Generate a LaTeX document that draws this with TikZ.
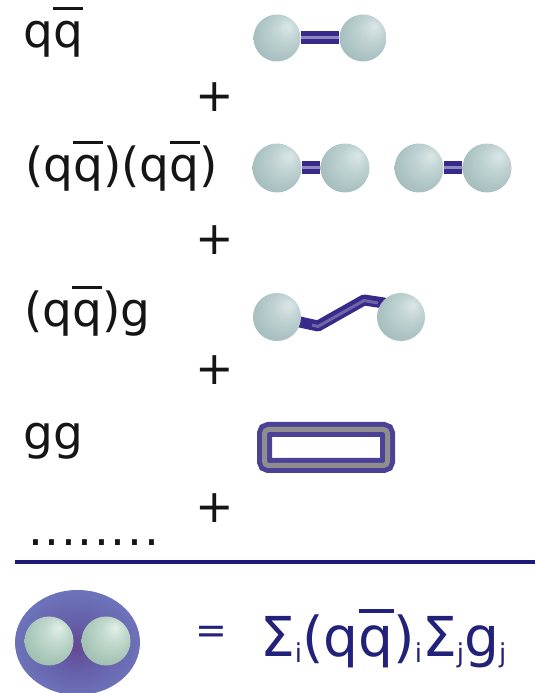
\documentclass[tikz,border=0pt]{standalone}
\usepackage{fontspec}
\setmainfont{DejaVu Sans}
\usetikzlibrary{shapes.geometric}

\definecolor{ink}{HTML}{151515}
\definecolor{navy}{HTML}{22227A}
\definecolor{bond}{HTML}{372A8A}
\definecolor{bondlight}{HTML}{8F89C2}
\definecolor{ribbonmid}{HTML}{6E66A8}
\definecolor{frame}{HTML}{4B4297}
\definecolor{framegray}{HTML}{8E8E8E}
\definecolor{rule}{HTML}{1C1C78}

\definecolor{sA}{HTML}{DCE7E7}
\definecolor{sB}{HTML}{C2D4D4}
\definecolor{sC}{HTML}{A7BFBF}
\definecolor{sD}{HTML}{8DA8A9}
\definecolor{sE}{HTML}{829E9F}

\definecolor{gA}{HTML}{E2EFE8}
\definecolor{gB}{HTML}{C2DACD}
\definecolor{gC}{HTML}{A1C1B2}
\definecolor{gD}{HTML}{86A897}
\definecolor{gE}{HTML}{7C9E8E}

\definecolor{oA}{HTML}{654894}
\definecolor{oB}{HTML}{6660AA}
\definecolor{oC}{HTML}{6E77BD}
\definecolor{oD}{HTML}{7780C4}
\definecolor{oE}{HTML}{959DD3}

% grey-teal spheres, lit from the upper right
\pgfdeclareradialshading{sphere}{\pgfpoint{13bp}{13bp}}{%
  color(0bp)=(sA); color(12bp)=(sB); color(30bp)=(sC); color(46bp)=(sD); color(50bp)=(sE)}
% greener spheres inside the glow
\pgfdeclareradialshading{sphereg}{\pgfpoint{10bp}{14bp}}{%
  color(0bp)=(gA); color(12bp)=(gB); color(30bp)=(gC); color(46bp)=(gD); color(50bp)=(gE)}
% bluish glow with a purple core
\pgfdeclareradialshading{glow}{\pgfpoint{0bp}{-2bp}}{%
  color(0bp)=(oA); color(12bp)=(oB); color(28bp)=(oC); color(44bp)=(oD); color(50bp)=(oE)}

\pgfdeclarelayer{bonds}
\pgfsetlayers{bonds,main}

\newcommand\qbar{\rlap{\rule[0.80em]{0.64em}{0.075em}}q}
\newcommand\sub[1]{\raisebox{-6pt}{\fontsize{26}{26}\selectfont #1}}
\newcommand\dotgap{\hspace{1.6pt}}

\tikzset{
  label/.style={anchor=base west, text=ink, inner sep=0pt, font=\fontsize{47}{50}\selectfont},
  plus/.style={text=ink, inner sep=0pt, font=\fontsize{46}{50}\selectfont},
  ball/.style={circle, inner sep=0pt, minimum size=#1, shade, shading=sphere},
  gball/.style={circle, inner sep=0pt, minimum size=#1, shade, shading=sphereg},
  twobond/.style={draw=bond, line width=5pt, double=bondlight, double distance=3pt},
}

\begin{document}
\begin{tikzpicture}[x=1pt,y=1pt]
\useasboundingbox (0,0) rectangle (535,693);

% row 1: a single quark-antiquark pair
\node[label] (t1) at (23,645) {q\qbar};
\node[ball=47pt] (a1) at (277,655) {};
\node[ball=47pt] (a2) at (363,655) {};
\draw[twobond] (a1) -- (a2);
\node[plus] (p1) at (215,596) {+};

% row 2: two pairs
\node[label] (t2) at (25,511) {(q\qbar)(q\qbar)};
\node[ball=49pt] (b1) at (277,525) {};
\node[ball=49pt] (b2) at (345,525) {};
\node[ball=49pt] (b3) at (419,525) {};
\node[ball=49pt] (b4) at (487,525) {};
\draw[twobond] (b1) -- (b2);
\draw[twobond] (b3) -- (b4);
\node[plus] (p2) at (215,453) {+};

% row 3: a pair joined by a gluon ribbon
\node[label] (t3) at (24,366) {(q\qbar)g};
\node[ball=48pt] (c1) at (277,376) {};
\node[ball=48pt] (c2) at (401,376) {};
\begin{pgfonlayer}{bonds}
  \draw[bond, line width=11pt, line join=round]
    (c1.center) -- (318,367) -- (364,393) -- (384,390) -- (c2.center);
  \draw[ribbonmid, line width=3pt, line join=round]
    (312,368) -- (318,366.5) -- (364,392.5) -- (378,390);
\end{pgfonlayer}
\node[plus] (p3) at (215,323) {+};

% row 4: a glueball
\node[label] (t4) at (23,243) {gg};
\node[draw=frame, line width=5pt, double=framegray, double distance=5pt,
      rounded corners=4pt, inner sep=0pt, minimum width=123pt, minimum height=36pt]
  (box) at (326,245.5) {};
\node[plus] (p4) at (215,185) {+};

% ellipsis and dividing rule
\node[label] (more) at (28,147) {.\dotgap.\dotgap.\dotgap.\dotgap.\dotgap.\dotgap.\dotgap.};
\coordinate (r1) at (15,131);
\coordinate (r2) at (535,131);
\draw[rule, line width=4.5pt] (r1) -- (r2);

% the hadron as a superposition
\node[ellipse, inner sep=0pt, minimum width=125pt, minimum height=105pt, shade, shading=glow]
  (hadron) at (77.5,50.5) {};
\node[gball=49pt] (h1) at (49,52) {};
\node[gball=49pt] (h2) at (106,52) {};
\node[text=navy, inner sep=0pt, font=\fontsize{38}{40}\selectfont] (eq) at (211,58.5) {=};
\node[anchor=base west, text=navy, inner sep=0pt, font=\fontsize{55}{60}\selectfont]
  (formula) at (260,36) {Σ\sub{i}(q\qbar)\sub{i}Σ\sub{j}g\sub{j}};
\end{tikzpicture}
\end{document}
